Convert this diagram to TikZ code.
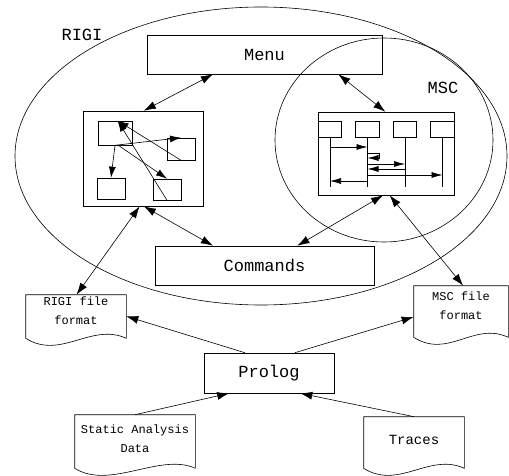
\documentclass[tikz,border=0pt]{standalone}
\usepackage{fontspec}
\setmonofont{Liberation Mono}
\usepackage{tikz}
\usetikzlibrary{arrows.meta}

% outline of a document: flat top, wavy bottom below the node
\newcommand{\docoutline}[2]{%
  \draw (#1.north west) -- (#1.north east) -- ([yshift=-#2]#1.south east)
    .. controls +(-35,-16) and +(35,22) .. ([yshift=-#2]#1.south west) -- cycle;}

\begin{document}
\begin{tikzpicture}[x=1pt,y=-1pt,line width=0.6pt,>={Latex[length=12pt,width=8pt]}]
  \tikzstyle{every node}=[font=\ttfamily\fontsize{17}{19}\selectfont]
  \tikzstyle{box}=[draw,rectangle,inner sep=0pt]
  \tikzstyle{small}=[draw,rectangle,inner sep=0pt,minimum width=28pt,minimum height=21pt]
  \tikzstyle{inst}=[draw,rectangle,inner sep=0pt,minimum width=23.5pt,minimum height=16pt]
  \tikzstyle{doc}=[rectangle,inner sep=0pt,align=center,font=\ttfamily\fontsize{12}{19}\selectfont]
  \tikzstyle{tiny}=[>={Latex[length=11pt,width=6pt]}]

  \useasboundingbox (0,0) rectangle (509,476);

  % the two views
  \draw (261,156) ellipse [x radius=246, y radius=149];
  \draw (384,140) ellipse [x radius=109, y radius=102];
  \node (rigilabel) at (82,35) {RIGI};
  \node (msclabel)  at (443,88) {MSC};

  \node[box,minimum width=235pt,minimum height=39pt] (menu)     at (264.5,54.5)  {Menu};
  \node[box,minimum width=219pt,minimum height=39pt] (commands) at (264.5,265.5) {Commands};
  \node[box,minimum width=130pt,minimum height=40pt] (prolog)   at (269,373)     {Prolog};

  % rigi graph view
  \node[box,minimum width=120pt,minimum height=95pt] (rigiview) at (143,158.5) {};
  \node[small,minimum width=34pt,minimum height=24pt] (r1) at (115,133) {};
  \node[small,minimum height=22pt] (r2) at (181,149) {};
  \node[small] (r3) at (111,188.5) {};
  \node[small] (r4) at (167,189.5) {};
  \path[->,>={Latex[length=11pt,width=7pt]}]
    (r1.south) edge (r3.north)
               edge (r2.north)
    (r1.285)   edge (r4.north)
    (r2.south) edge (r1.78)
    (r4.south) edge (r1.78);

  % message sequence chart view
  \node[box,minimum width=136pt,minimum height=83pt] (mscview) at (386,153.5) {};
  \foreach \n/\x in {1/330,2/367.5,3/405,4/442.5} {
    \node[inst] (i\n) at (\x,129) {};
    \coordinate (e\n) at (\x,187);
    \draw (i\n) -- (e\n);
  }
  \draw[->,tiny] (i1 |- 0,147) -- (i2 |- 0,147);
  \draw[->,tiny] (i2 |- 0,153) -| (379,158) -- (i2 |- 0,158);
  \draw[->,tiny] (i2 |- 0,164) -- (i3 |- 0,164);
  \draw[->,tiny] (i3 |- 0,169) -- (i2 |- 0,169);
  \draw[->,tiny] (i2 |- 0,175) -- (i4 |- 0,175);
  \draw[->,tiny] (i2 |- 0,181) -- (i1 |- 0,181);

  % documents
  \node[doc,minimum width=100pt,minimum height=32pt] (rigifile) at (76,311)  {RIGI file\\format};
  \node[doc,minimum width=94pt,minimum height=40pt]  (mscfile)  at (461,306) {MSC file\\format};
  \node[doc,minimum width=120pt,minimum height=48pt] (static)   at (135,439) {Static Analysis\\Data};
  \node[doc,minimum width=100pt,minimum height=46pt,font=\ttfamily\fontsize{14}{19}\selectfont] (traces) at (414,440) {Traces};
  \docoutline{rigifile}{11pt}
  \docoutline{mscfile}{11pt}
  \docoutline{static}{5pt}
  \docoutline{traces}{5pt}

  \path[<->]
    (menu.201)     edge (rigiview.89)
    (menu.345)     edge (mscview.91)
    (rigiview.271) edge (commands.159)
    (rigiview.266) edge (rigifile.88)
    (mscview.266)  edge (commands.31)
    (mscview.275)  edge (mscfile.84);
  \path[->]
    (prolog.140)   edge (rigifile.354)
    (prolog.38)    edge (mscfile.193)
    (static.north) edge (prolog.207)
    (traces.north) edge (prolog.327);
\end{tikzpicture}
\end{document}
